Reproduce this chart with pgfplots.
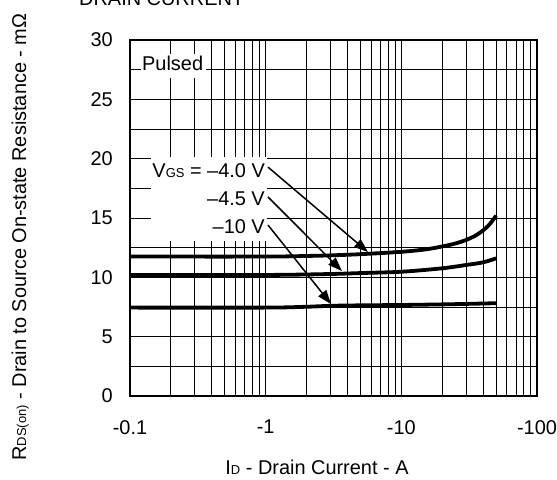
\documentclass[border=0pt]{standalone}
\usepackage{fontspec}
\setmainfont{Liberation Sans}
\usepackage{pgfplots}
\pgfplotsset{compat=1.18}
\usetikzlibrary{arrows.meta}
\newcommand{\sub}[1]{{\fontsize{13}{14}\selectfont #1}}

\begin{document}
\begin{tikzpicture}[font=\fontsize{20}{24}\selectfont]
  \begin{axis}[
    name=ax,
    scale only axis,
    width=407bp, height=356bp,
    xmode=log,
    xmin=0.1, xmax=100, ymin=0, ymax=30,
    xtick={0.1,1,10,100},
    xticklabels={-0.1,-1,-10,-100},
    ytick={0,5,...,30},
    minor ytick={2.5,7.5,...,27.5},
    /pgf/number format/assume math mode=true,
    grid=both,
    major grid style={black, line width=0.9bp},
    minor grid style={black, line width=0.9bp},
    tick style={draw=none},
    axis line style={line width=2.6bp},
    xticklabel style={inner sep=0pt, yshift=-24bp},
    yticklabel style={inner sep=0pt, xshift=-17bp},
    xlabel={I\sub{D} - Drain Current - A},
    xlabel style={at={(axis description cs:0.4595,-0.2191)}, anchor=base, inner sep=0pt},
    ylabel={R\sub{DS(on)} - Drain to Source On-state Resistance - mΩ},
    ylabel style={at={(axis description cs:-0.2555,0.4466)}, anchor=base, inner sep=0pt},
  ]
    % white boxes behind the notes
    \fill[white] (axis cs:0.1205,26.8) rectangle (axis cs:0.363,28.8);
    \fill[white] (axis cs:0.143,13.1) rectangle (axis cs:1.02,20.1);

    \addplot[black, line width=3.8bp, smooth, no marks] coordinates {
      (0.1,11.75) (1,11.75) (2,11.8) (3,11.85) (5,11.95) (10,12.15)
      (15,12.35) (20,12.6) (25,12.85) (30,13.15) (35,13.5) (40,13.95)
      (45,14.5) (50,15.2)
    }; % -4.0 V
    \addplot[black, line width=3.8bp, smooth, no marks] coordinates {
      (0.1,10.2) (1,10.2) (3,10.28) (5,10.36) (10,10.47) (20,10.76)
      (30,11.04) (40,11.26) (50,11.6)
    }; % -4.5 V
    \addplot[black, line width=3.8bp, smooth, no marks] coordinates {
      (0.1,7.45) (1,7.45) (2,7.52) (3,7.6) (5,7.64) (10,7.67)
      (20,7.72) (30,7.76) (50,7.82)
    }; % -10 V

    \node[anchor=base west, inner sep=0pt] at (axis cs:0.1226,27.42) {Pulsed};
    \node[anchor=base east, inner sep=0pt] at (axis cs:0.989,18.45) {V\sub{GS} = –4.0 V};
    \node[anchor=base east, inner sep=0pt] at (axis cs:0.989,16.09) {–4.5 V};
    \node[anchor=base east, inner sep=0pt] at (axis cs:0.989,13.73) {–10 V};

    \draw[line width=1.5bp, -{Triangle[length=14bp,width=10bp]}]
      (axis cs:1.04,19.29) -- (axis cs:5.68,12.13);
    \draw[line width=1.5bp, -{Triangle[length=14bp,width=10bp]}]
      (axis cs:1.04,16.77) -- (axis cs:3.65,10.53);
    \draw[line width=1.5bp, -{Triangle[length=14bp,width=10bp]}]
      (axis cs:1.04,14.41) -- (axis cs:3.03,7.75);
  \end{axis}
  % title, cut off at the top edge as in the reference
  \node[anchor=base west, inner sep=0pt] at ([shift={(-51bp,34bp)}]ax.north west) {DRAIN CURRENT};
  \pgfresetboundingbox
  \path[use as bounding box] ([shift={(-130bp,-84bp)}]ax.south west)
    rectangle ([shift={(20bp,40bp)}]ax.north east);
\end{tikzpicture}
\end{document}
